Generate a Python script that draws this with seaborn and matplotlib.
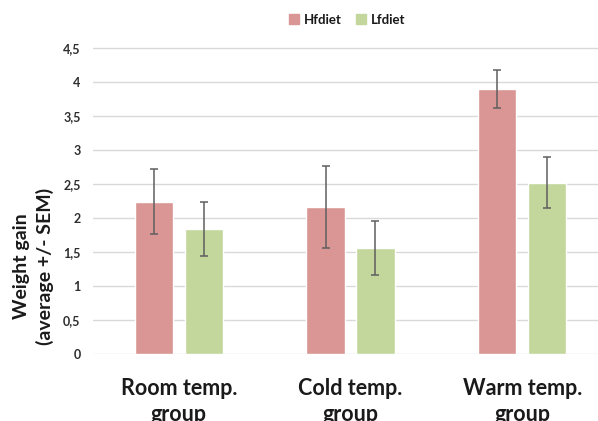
import matplotlib
matplotlib.use("Agg")
import matplotlib.pyplot as plt
import seaborn as sns
import pandas as pd
from matplotlib.lines import Line2D
from matplotlib.ticker import FuncFormatter

groups = ["Room temp.\ngroup", "Cold temp.\ngroup", "Warm temp.\ngroup"]
diets = ["Hfdiet", "Lfdiet"]
hf_values = [2.24, 2.16, 3.90]
lf_values = [1.84, 1.56, 2.52]
hf_sem = [0.48, 0.60, 0.28]
lf_sem = [0.40, 0.40, 0.38]
y_ticks = [0, 0.5, 1, 1.5, 2, 2.5, 3, 3.5, 4, 4.5]

colors = {"Hfdiet": "#D99694", "Lfdiet": "#C3D69B"}

df = pd.DataFrame({
    "Group": groups * 2,
    "Diet": ["Hfdiet"] * 3 + ["Lfdiet"] * 3,
    "Gain": hf_values + lf_values,
})
sems = {"Hfdiet": hf_sem, "Lfdiet": lf_sem}

sns.set_theme(style="white")
plt.rcParams["font.family"] = ["Lato", "DejaVu Sans"]

W, H = 598, 421
fig = plt.figure(figsize=(W / 100, H / 100), dpi=100)
ymax = 4.6
px_per_unit = 68.0
ax_left, ax_right = 93, 608
ax_bottom = 354
ax_h = ymax * px_per_unit
ax = fig.add_axes([ax_left / W, (H - ax_bottom) / H, (ax_right - ax_left) / W, ax_h / H])

sns.barplot(data=df, x="Group", y="Gain", hue="Diet", hue_order=diets,
            palette=colors, width=0.58, gap=0.23, errorbar=None,
            saturation=1, legend=False, ax=ax, zorder=2)

for cont, diet in zip(ax.containers, diets):
    for bar, s in zip(cont, sems[diet]):
        xc = bar.get_x() + bar.get_width() / 2
        ax.errorbar(xc, bar.get_height(), yerr=s, fmt="none",
                    ecolor="#5f5f5f", elinewidth=1.1, capsize=3.2,
                    capthick=1.1, zorder=3)

ax.set_xlim(-0.5, 2.5)
ax.set_ylim(0, ymax)
ax.set_yticks(y_ticks)
ax.yaxis.set_major_formatter(FuncFormatter(lambda v, p: ("%g" % v).replace(".", ",")))
ax.grid(axis="y", color="#d9d9d9", linewidth=1.0, zorder=0)
ax.set_axisbelow(True)
for sp in ax.spines.values():
    sp.set_visible(False)

ax.tick_params(axis="y", length=0, pad=9, labelsize=9, labelcolor="#2e2e2e")
ax.tick_params(axis="x", length=0, pad=17, labelsize=15.5, labelcolor="#1a1a1a")
for t in ax.get_yticklabels():
    t.set_fontweight("bold")
for t in ax.get_xticklabels():
    t.set_fontweight("bold")
    t.set_linespacing(1.3)

ax.set_xlabel("")
ax.set_ylabel("Weight gain\n(average +/- SEM)", fontsize=14, fontweight="bold",
              color="#1a1a1a", linespacing=1.4)
ax.yaxis.set_label_coords((54 - ax_left) / (ax_right - ax_left), (ax_bottom - 266) / ax_h)

handles = [Line2D([0], [0], marker="s", linestyle="none", markersize=6.5,
                  markerfacecolor=colors[d], markeredgecolor=colors[d]) for d in diets]
leg = fig.legend(handles, diets, loc="center", bbox_to_anchor=(347 / W, 1 - 20 / H),
                 ncol=2, frameon=False, fontsize=9.5, handletextpad=0.3,
                 columnspacing=1.0, handlelength=0.9)
for t in leg.get_texts():
    t.set_fontweight("bold")
    t.set_color("#1a1a1a")

fig.savefig("out.png", dpi=100)
